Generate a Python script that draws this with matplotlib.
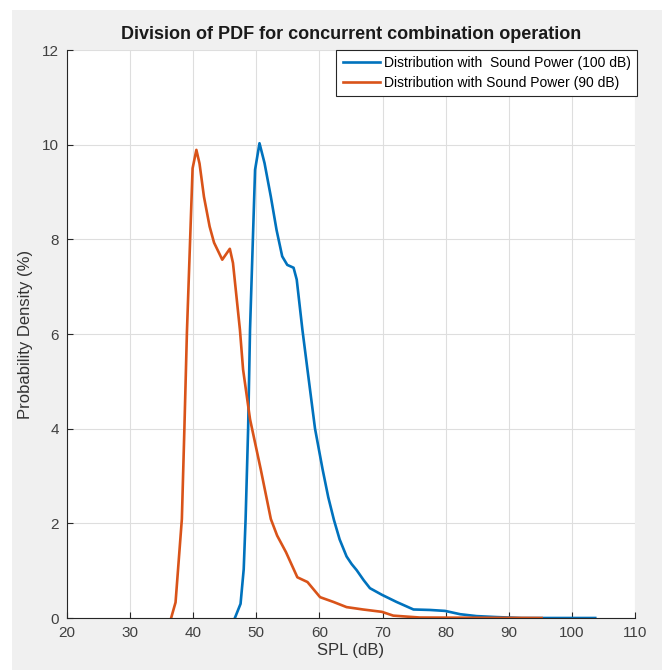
import matplotlib.pyplot as plt
from matplotlib.patches import Rectangle

# SPL (dB) and probability density (%)
spl_100 = [46.6, 47.5, 48.0, 48.3, 48.7, 49.0, 49.8, 50.5, 51.3, 52.3, 53.2, 54.1,
           54.9, 55.9, 56.4, 57.3, 58.1, 59.3, 60.5, 61.4, 62.3, 63.2, 64.3, 65.1,
           65.9, 67.0, 68.0, 69.9, 72.2, 74.9, 77.5, 79.9, 82.3, 84.9, 88.0, 92.0,
           103.7]
pdf_100 = [0.0, 0.3, 1.03, 2.09, 4.0, 6.09, 9.47, 10.03, 9.61, 8.9, 8.2, 7.64,
           7.46, 7.4, 7.15, 6.09, 5.25, 4.0, 3.14, 2.55, 2.07, 1.66, 1.3, 1.14,
           1.01, 0.8, 0.63, 0.49, 0.34, 0.18, 0.17, 0.15, 0.08, 0.04, 0.02, 0.0,
           0.0]

spl_90 = [36.5, 37.2, 38.2, 38.6, 39.0, 39.9, 40.5, 41.0, 41.7, 42.6, 43.3, 44.6,
          45.8, 46.3, 47.4, 47.9, 49.0, 50.7, 52.3, 53.3, 54.7, 56.5, 58.1, 60.1,
          62.2, 64.3, 66.9, 69.9, 71.7, 75.9, 95.2]
pdf_90 = [0.0, 0.33, 2.09, 4.0, 6.03, 9.5, 9.89, 9.6, 8.9, 8.27, 7.93, 7.57,
          7.8, 7.5, 6.09, 5.25, 4.2, 3.14, 2.09, 1.74, 1.39, 0.86, 0.76, 0.44,
          0.34, 0.23, 0.18, 0.13, 0.05, 0.01, 0.0]

plt.rcParams['font.family'] = ['Liberation Sans', 'DejaVu Sans']

fig = plt.figure(figsize=(6.62, 6.70), dpi=100, facecolor='white')
# grey MATLAB figure background, behind the axes
fig.patches.append(Rectangle((12 / 662, 0), 1, 1 - 10 / 670, transform=fig.transFigure,
                             facecolor='#f0f0f0', edgecolor='none', zorder=-10))

ax = fig.add_axes([67 / 662, 1 - 618 / 670, (635 - 67) / 662, (618 - 50) / 670])
ax.set_facecolor('white')

ax.plot(spl_100, pdf_100, color='#0072BD', lw=1.9, label='Distribution with  Sound Power (100 dB)')
ax.plot(spl_90, pdf_90, color='#D95319', lw=1.9, label='Distribution with Sound Power (90 dB)')

ax.set_xlim(20, 110)
ax.set_ylim(0, 12)
ax.set_xticks(range(20, 111, 10))
ax.set_yticks(range(0, 13, 2))
ax.grid(True, color='#dedede', lw=0.8)
ax.set_axisbelow(True)
for side in ['top', 'right']:
    ax.spines[side].set_visible(False)
for side in ['left', 'bottom']:
    ax.spines[side].set_color('#262626')
    ax.spines[side].set_linewidth(0.8)
ax.tick_params(direction='in', length=4, width=0.8, color='#262626',
               labelcolor='#404040', labelsize=11)
ax.tick_params(axis='x', pad=6)
ax.tick_params(axis='y', pad=6)

ax.set_title('Division of PDF for concurrent combination operation',
             fontsize=13, fontweight='bold', color='#1a1a1a', pad=8)
ax.set_xlabel('SPL (dB)', fontsize=12, color='#333333', labelpad=2)
ax.set_ylabel('Probability Density (%)', fontsize=12, color='#333333', labelpad=6)

leg = ax.legend(loc='upper right', bbox_to_anchor=(1.003, 1.0), fontsize=10,
                fancybox=False, framealpha=1, edgecolor='#262626',
                handlelength=2.7, handletextpad=0.25, borderpad=0.45,
                labelspacing=0.4, borderaxespad=0)
leg.get_frame().set_linewidth(0.8)

fig.savefig('out.png', dpi=100, facecolor=fig.get_facecolor())
